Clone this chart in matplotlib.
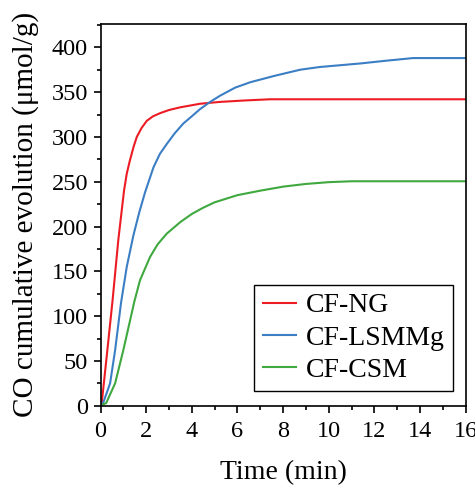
import matplotlib
matplotlib.use('Agg')
import matplotlib.pyplot as plt
from matplotlib.ticker import MultipleLocator

# time (min) and CO cumulative evolution (umol/g)
t_ng = [0, 0.05, 0.3, 0.53, 0.78, 1.03, 1.15, 1.29, 1.45, 1.59, 1.8, 2.03, 2.3, 2.61,
        3.0, 3.49, 4.36, 5.2, 6.26, 7.43, 16]
co_ng = [0, 2, 62, 118, 185, 240, 259, 274, 289, 300, 310, 318, 323, 326.5,
         330, 333, 337, 339, 340.6, 342, 342]

t_lsmmg = [0, 0.1, 0.42, 0.64, 0.9, 1.15, 1.44, 1.7, 1.95, 2.32, 2.6, 2.9, 3.25, 3.63,
           4.0, 4.36, 4.8, 5.24, 5.9, 6.56, 7.6, 8.75, 9.6, 10.5, 11.4, 12.5, 13.7, 16]
co_lsmmg = [0, 2, 25, 62, 115, 155, 190, 216, 238, 266, 281, 292, 304, 315,
            323, 331, 339, 346, 355, 361, 368, 375, 378, 380, 382, 385, 388, 388]

t_csm = [0, 0.25, 0.64, 1.0, 1.48, 1.73, 2.17, 2.5, 2.9, 3.5, 4.0, 4.5, 5.0, 6.0,
         7.0, 8.0, 9.0, 10.0, 11.0, 16]
co_csm = [0, 3, 25, 62, 116, 140, 166, 180, 192, 205, 214, 221, 227, 235,
          240, 244.5, 247.5, 249.5, 250.5, 250.5]

labels = ['CF-NG', 'CF-LSMMg', 'CF-CSM']
colors = ['#ec1c24', '#3c7ec4', '#3fa83f']

plt.rcParams['font.family'] = ['Liberation Serif', 'DejaVu Serif']


def main():
    fig = plt.figure(figsize=(4.75, 4.86), dpi=100)
    ax = fig.add_axes([0.2116, 0.1652, 0.7688, 0.7854])

    ax.plot(t_ng, co_ng, color=colors[0], lw=1.5, label=labels[0])
    ax.plot(t_lsmmg, co_lsmmg, color=colors[1], lw=1.5, label=labels[1])
    ax.plot(t_csm, co_csm, color=colors[2], lw=1.5, label=labels[2])

    ax.set_xlim(0, 16)
    ax.set_ylim(0, 426)
    ax.xaxis.set_major_locator(MultipleLocator(2))
    ax.xaxis.set_minor_locator(MultipleLocator(1))
    ax.set_yticks(range(0, 401, 50))
    ax.yaxis.set_minor_locator(MultipleLocator(25))

    ax.tick_params(which='major', direction='out', length=5, width=1.2, labelsize=17.5)
    ax.tick_params(axis='x', which='major', pad=6)
    ax.tick_params(axis='y', which='major', pad=4)
    ax.tick_params(which='minor', direction='out', length=3, width=1.2)
    for s in ax.spines.values():
        s.set_linewidth(1.2)

    ax.set_xlabel('Time (min)', fontsize=20)
    ax.set_ylabel('CO cumulative evolution (\u03bcmol/g)', fontsize=21)
    ax.xaxis.set_label_coords(0.5, -0.143)
    ax.yaxis.set_label_coords(-0.168, 0.502)

    leg = ax.legend(loc='lower right', bbox_to_anchor=(0.965, 0.0385), borderaxespad=0,
                    fontsize=20, handlelength=1.2, handletextpad=0.35, labelspacing=0.24,
                    borderpad=0.3, fancybox=False, framealpha=1, edgecolor='black')
    leg.get_frame().set_linewidth(1.0)

    fig.savefig('out.png', dpi=100)


if __name__ == '__main__':
    main()
